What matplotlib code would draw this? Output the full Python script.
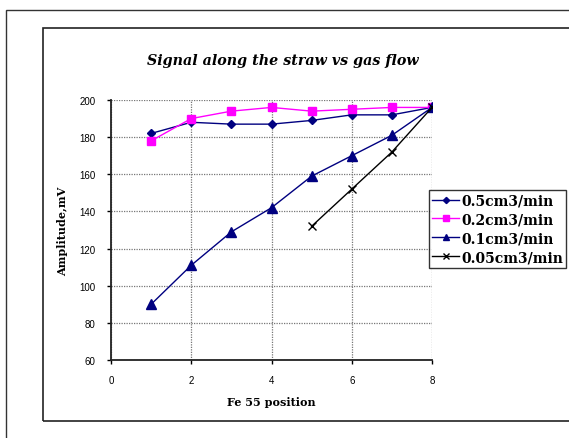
import numpy as np
import matplotlib
matplotlib.use("Agg")
import matplotlib.pyplot as plt
from matplotlib.patches import Rectangle

# --- data: signal amplitude vs source position, per gas flow ---
pos = [1, 2, 3, 4, 5, 6, 7, 8]
flow_05 = [182, 188, 187, 187, 189, 192, 192, 196]
flow_02 = [178, 190, 194, 196, 194, 195, 196, 196]
flow_01 = [90, 111, 129, 142, 159, 170, 181, 196]
pos_005 = [5, 6, 7, 8]
flow_005 = [132, 152, 172, 196]

labels = ["0.5cm3/min", "0.2cm3/min", "0.1cm3/min", "0.05cm3/min"]
ticks_x = [0, 2, 4, 6, 8]
ticks_y = [60, 80, 100, 120, 140, 160, 180, 200]

serif = "DejaVu Serif"
sans = "Liberation Sans"

W, H = 569, 439
fig = plt.figure(figsize=(W / 100, H / 100), dpi=100)

# chart frames (outer page box and chart area box)
fig.patches.append(Rectangle((6 / W, 1 - 600 / H), 700 / W, 589 / H,
                             transform=fig.transFigure, fill=False,
                             edgecolor="#333333", lw=1.0))
fig.patches.append(Rectangle((43 / W, 1 - 422 / H), 700 / W, 393 / H,
                             transform=fig.transFigure, fill=False,
                             edgecolor="#222222", lw=1.2))

ax = fig.add_axes([111 / W, 1 - 361 / H, 321 / W, 260 / H])

ax.plot(pos, flow_05, color="#000080", marker="D", ms=4.5, lw=1.0, label=labels[0])
ax.plot(pos, flow_02, color="#FF00FF", marker="s", ms=6, lw=1.0, label=labels[1])
ax.plot(pos, flow_01, color="#000080", marker="^", ms=6.5, lw=1.0, label=labels[2])
ax.plot(pos_005, flow_005, color="black", marker="x", ms=6, mew=1.0, lw=1.0,
        label=labels[3])

ax.set_xlim(0, 8)
ax.set_ylim(60, 200)
ax.set_xticks(ticks_x)
ax.set_yticks(ticks_y)
ax.grid(True, color="#777777", linestyle=(0, (1, 1)), lw=0.9)
for side in ["top", "right"]:
    ax.spines[side].set_visible(False)
for side in ["left", "bottom"]:
    ax.spines[side].set_linewidth(1.3)
    ax.spines[side].set_color("#222222")
ax.tick_params(direction="out", length=3, width=1, labelsize=7, pad=8)
for lab in ax.get_xticklabels() + ax.get_yticklabels():
    lab.set_family(sans)

ax.set_xlabel("Fe 55 position", family=serif, fontweight="bold", fontsize=8,
              labelpad=8)
ax.set_ylabel("Amplitude,mV", family=serif, fontweight="bold", fontsize=8,
              labelpad=8)

fig.text(283 / W, 1 - 61 / H, "Signal along the straw vs gas flow",
         family=serif, fontweight="bold", style="italic", fontsize=10.3,
         ha="center", va="center")

leg = ax.legend(loc="upper left", bbox_to_anchor=(429 / W, 1 - 191 / H),
                bbox_transform=fig.transFigure, prop={"family": serif,
                "weight": "bold", "size": 10}, frameon=True, fancybox=False,
                borderpad=0.25, labelspacing=0.35, handlelength=1.9,
                handletextpad=0.15, borderaxespad=0, markerscale=0.7)
leg.get_frame().set_edgecolor("black")
leg.get_frame().set_linewidth(1.0)

fig.savefig("out.png", dpi=100)
